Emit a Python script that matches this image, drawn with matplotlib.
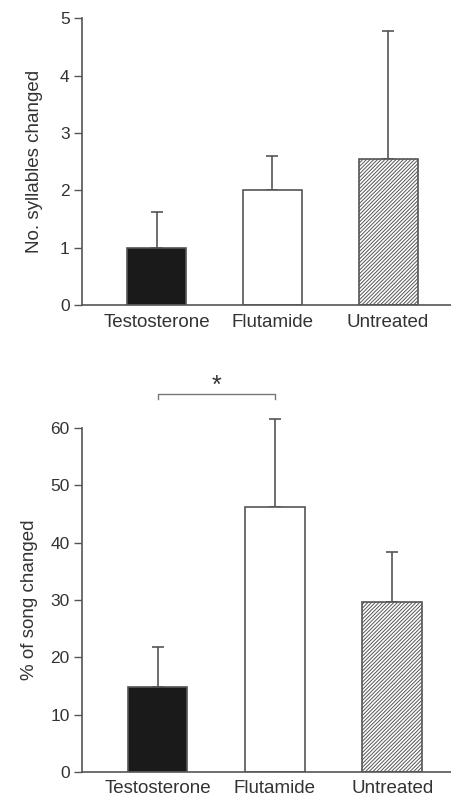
import matplotlib.pyplot as plt
import numpy as np

plt.rcParams['font.family'] = ['Liberation Sans', 'DejaVu Sans']
plt.rcParams['hatch.color'] = '#8a8a8a'
plt.rcParams['hatch.linewidth'] = 0.7

groups = ["Testosterone", "Flutamide", "Untreated"]

syllables_mean = [1.0, 2.0, 2.55]
syllables_err = [0.63, 0.6, 2.23]

song_mean = [14.8, 46.2, 29.7]
song_err = [7.0, 15.4, 8.7]

fills = ["#1a1a1a", "white", "white"]
hatches = [None, None, "/////////"]

TXT = "#333333"
LINE = "#555555"


def style_axes(ax):
    ax.spines["top"].set_visible(False)
    ax.spines["right"].set_visible(False)
    for s in ("left", "bottom"):
        ax.spines[s].set_color(LINE)
        ax.spines[s].set_linewidth(1.2)
    ax.tick_params(axis="y", direction="out", length=6, width=1.0, color=LINE,
                   labelsize=12.5, labelcolor=TXT, pad=3)
    ax.tick_params(axis="x", length=0, labelsize=13.5, labelcolor=TXT, pad=6)


def draw_bars(ax, means, errs):
    x = np.arange(len(groups))
    for i in range(len(groups)):
        ax.bar(x[i], means[i], width=0.51, color=fills[i], edgecolor=LINE,
               linewidth=1.2, hatch=hatches[i], zorder=2)
    ax.errorbar(x, means, yerr=[np.zeros(len(errs)), errs], fmt="none",
                ecolor=LINE, elinewidth=1.2, capsize=4, capthick=1.2,
                zorder=1, clip_on=False)
    ax.set_xticks(x)
    ax.set_xticklabels(groups)


fig = plt.figure(figsize=(4.51, 7.97), dpi=100)

ax1 = fig.add_axes([0.182, 0.617, 0.818, 0.360])
draw_bars(ax1, syllables_mean, syllables_err)
ax1.set_ylim(0, 5)
ax1.set_xlim(-0.644, 2.544)
ax1.set_yticks([0, 1, 2, 3, 4, 5])
ax1.set_ylabel("No. syllables changed", fontsize=13.5, color=TXT, labelpad=12)
style_axes(ax1)

ax2 = fig.add_axes([0.182, 0.0314, 0.818, 0.4316])
draw_bars(ax2, song_mean, song_err)
ax2.set_ylim(0, 60)
ax2.set_xlim(-0.643, 2.5)
ax2.set_yticks([0, 10, 20, 30, 40, 50, 60])
ax2.set_ylabel("% of song changed", fontsize=13.5, color=TXT, labelpad=9)
style_axes(ax2)

# significance bracket
ax2.plot([0, 0, 1, 1], [65.1, 65.9, 65.9, 65.1], color="#777777", lw=1.0,
         clip_on=False)
ax2.text(0.5, 65.2, "*", ha="center", va="bottom", fontsize=18, color=TXT,
         clip_on=False)

fig.savefig("out.png", dpi=100)
